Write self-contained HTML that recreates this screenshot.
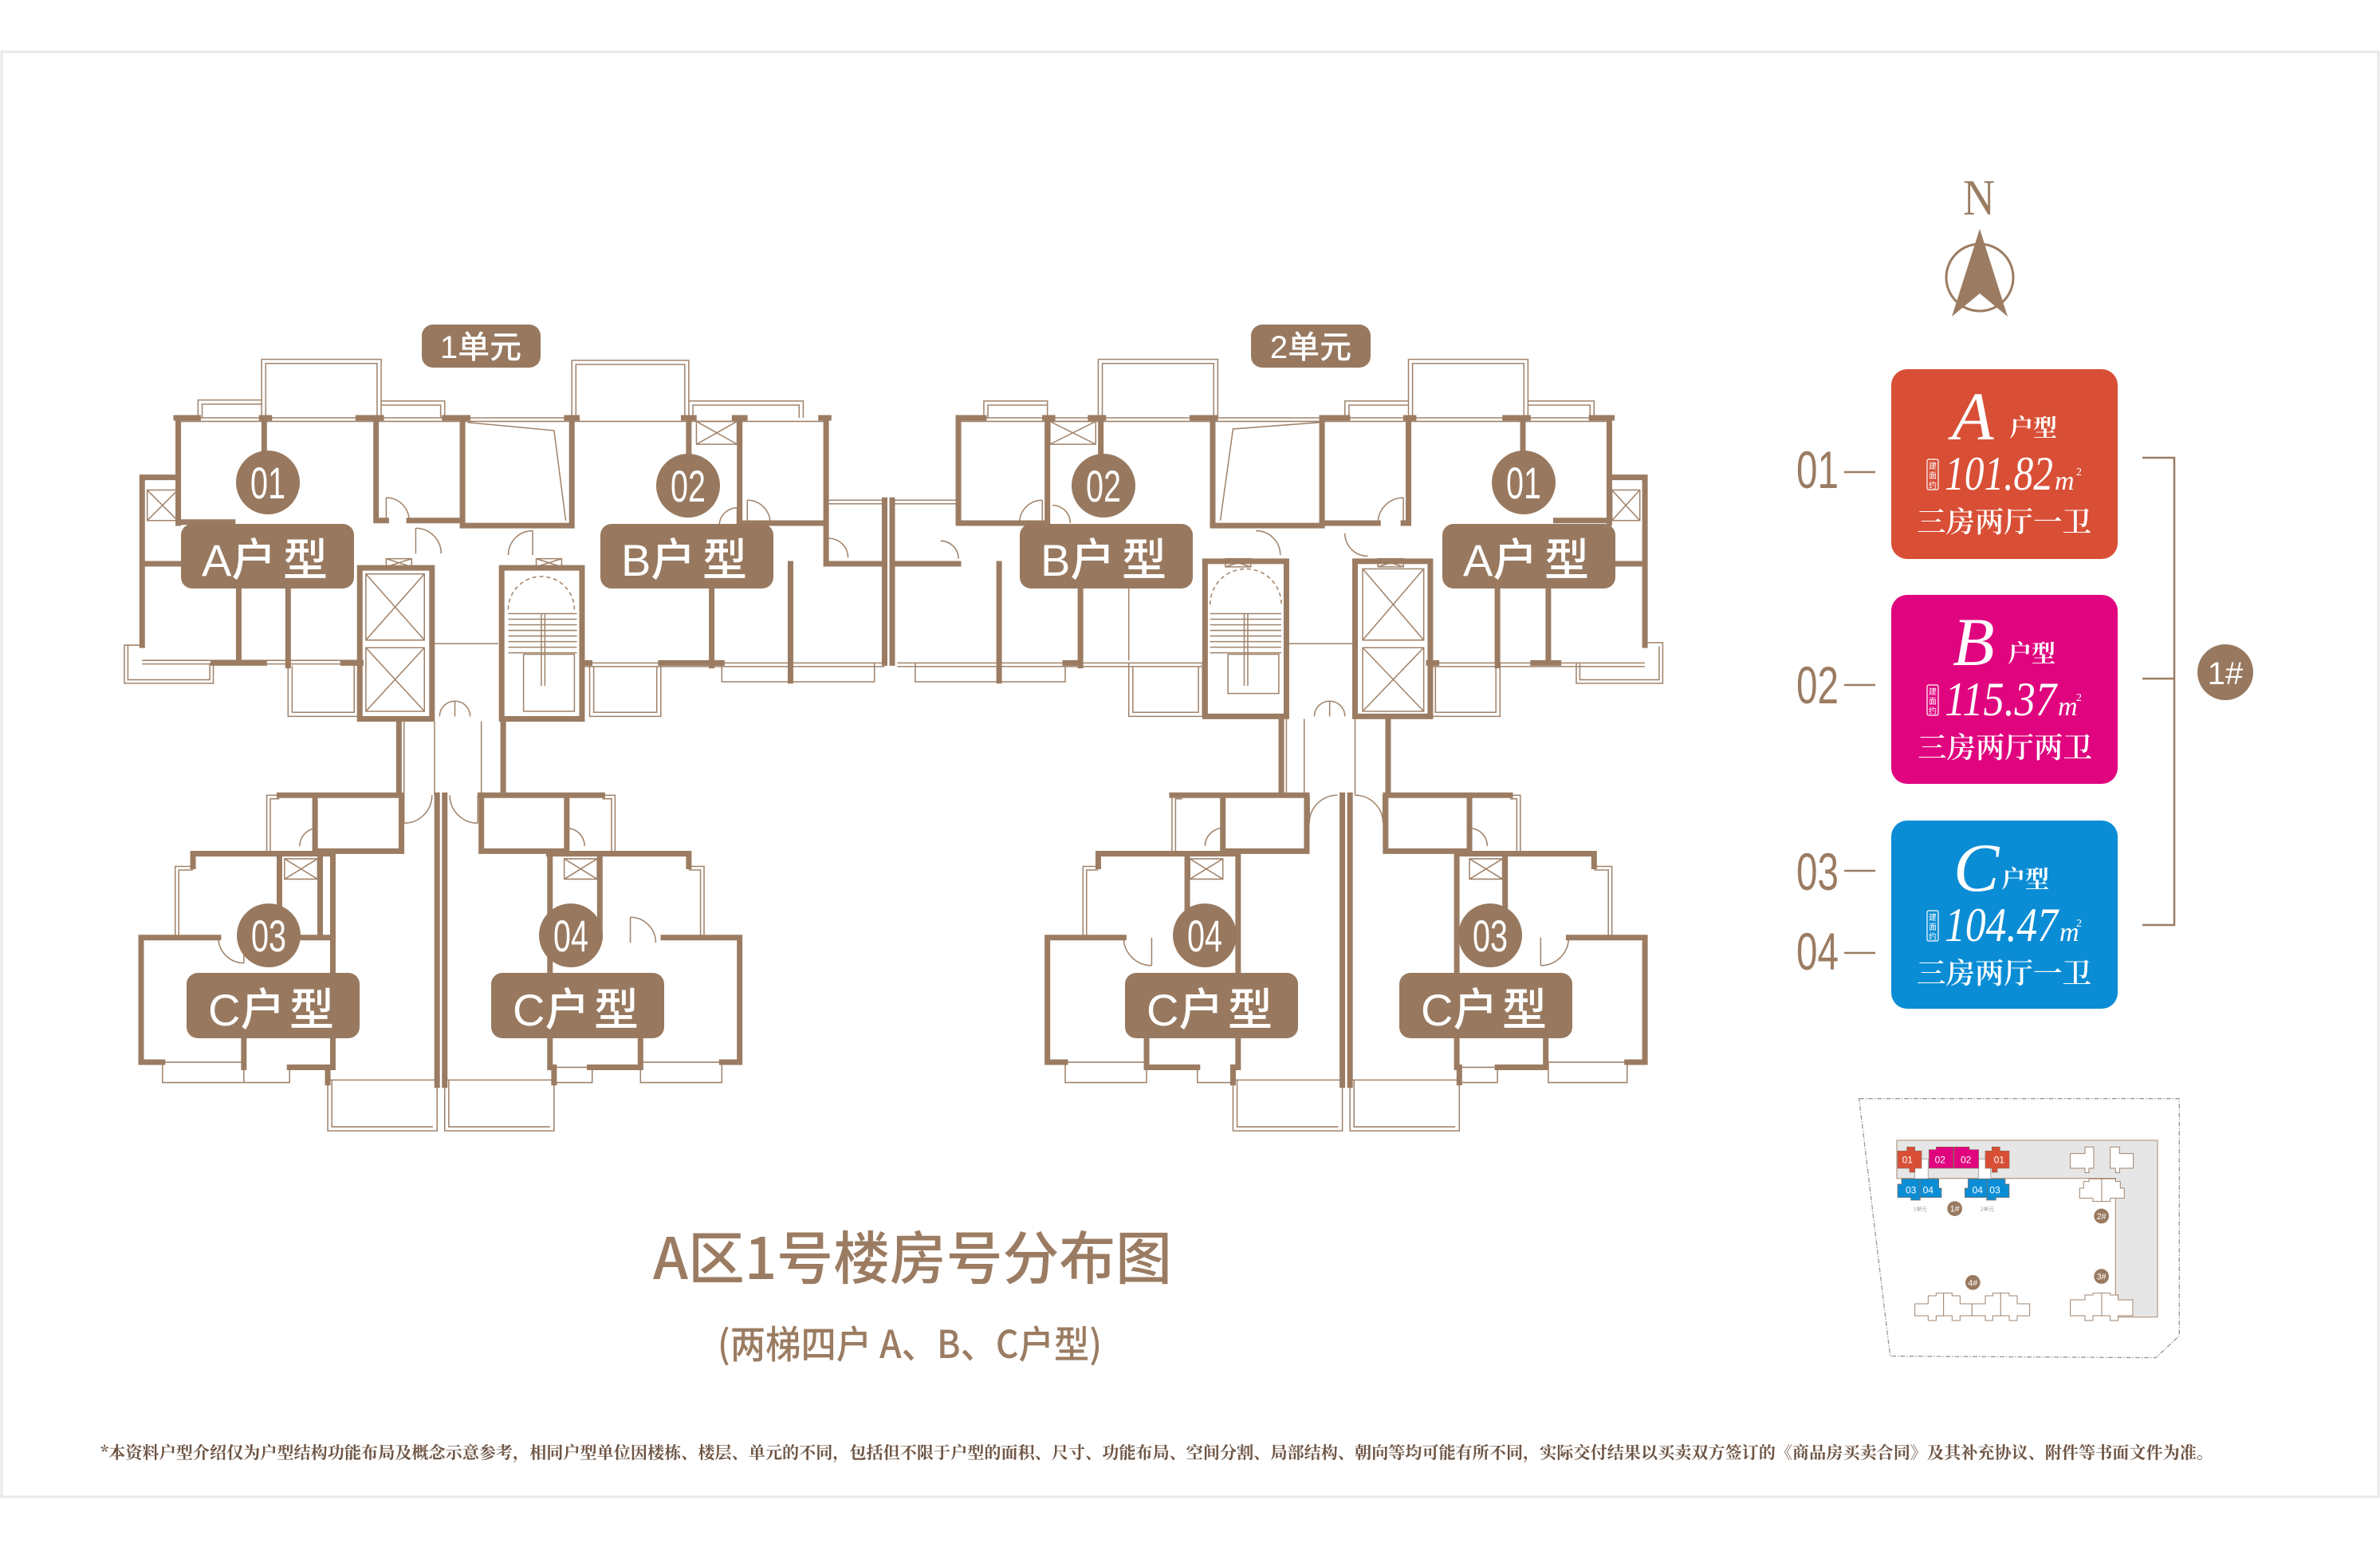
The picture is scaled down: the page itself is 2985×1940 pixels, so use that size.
<!DOCTYPE html>
<html><head><meta charset="utf-8"><style>
html,body{margin:0;padding:0;background:#fff}
svg{display:block}
.w{stroke:#9b7c62;stroke-width:11;fill:none;stroke-linecap:square}
.t{stroke:#a0836b;stroke-width:2.4;fill:none}
.d{stroke:#a0836b;stroke-width:2.4;fill:none;stroke-dasharray:8 6}
.pt{font-family:"Liberation Sans","Noto Sans CJK SC",sans-serif;font-weight:500;fill:#fff}
.cj{font-family:"Noto Sans CJK SC","WenQuanYi Zen Hei",sans-serif;font-weight:500}
.sf{font-family:"Liberation Serif","Noto Serif CJK SC",serif}
</style></head><body>
<svg width="2985" height="1940" viewBox="0 0 2985 1940" xmlns="http://www.w3.org/2000/svg">
<rect x="0" y="0" width="2985" height="1940" fill="#fff"/>
<rect x="2" y="65" width="2981" height="1812" fill="none" stroke="#e8e8e8" stroke-width="3"/>

<!-- UNIT 1 -->
<g transform="translate(140,420) scale(0.6378)">
<path class="t" d="M295,163V48H530V163M303,163V56H522V163M170,163V128H295M178,163V136H295M530,130H655V163M530,138H647V163M127,163H905M127,170H905M700,172L870,188L893,365M905,163V50H1135V163M913,163V58H1127V163M1135,163V130H1360V163M1143,163V138H1352V163M905,170H1410M60,610H25V685H200V645M32,610V678H193V645M347,650V750H485V650M355,650V742H477V650M60,640H490M60,647H490M930,645H1520M930,652H1520M940,645V750H1080V645M948,652V742H1072V652M1200,645V682H1335V645M1335,645V682H1500V645M1410,325H1520M1410,332H1520M575,760V905M635,760V905M727,760V905M305,1020V905H330M312,1020V912H330M125,1185V1045H160M132,1185V1052H160M100,1430H260M100,1430V1470H260V1435M260,1440V1470H350V1440M425,1465V1565H640V1465M433,1465V1557H632M425,1465H640M965,905H990V1020M965,912H983V1020M1135,1045H1165V1185M1135,1052H1158V1185M1040,1430H1200M1040,1430V1470H1200V1430M870,1440H945M870,1470H945V1440M655,1465V1565H870V1465M663,1465V1557H862M655,1465H870"/>
<path class="t" d="M70,305h60v60h-60zM70,305l60,60M130,305l-60,60M1150,170h80v45h-80zM1150,170l80,45M1230,170l-80,45M500,470h115v130h-115zM500,470l115,130M615,470l-115,130M500,615h115v125h-115zM500,615l115,125M615,615l-115,125M540,440h50v16h-50zM540,440l50,16M590,440l-50,16M835,440h50v16h-50zM835,440l50,16M885,440l-50,16M340,1030h65v40h-65zM340,1030l65,40M405,1030l-65,40M890,1030h65v40h-65zM890,1030l65,40M955,1030l-65,40"/>
<path class="t" d="M780,548H915M780,559H915M780,570H915M780,581H915M780,592H915M780,603H915M780,614H915M780,625H915M810,628H910V740H810ZM845,548V690M852,548V690M630,607H760"/>
<path class="d" d="M780,540A65,65 0 0 1 910,540"/>
<path class="t" d="M540,320V365M540,320A45,45 0 0 1 585,365M598,380V430M598,380A50,50 0 0 1 648,430M828,385V433M828,385A48,48 0 0 0 780,433M1230,340V375M1230,340A35,35 0 0 0 1195,375M1250,325V370M1250,325A45,45 0 0 1 1295,370M1410,400A38,38 0 0 1 1448,438M645,750A30,30 0 0 1 675,720V750M705,750A30,30 0 0 0 675,720M575,905V960M575,960A55,55 0 0 0 630,905M720,905V960M720,960A55,55 0 0 1 665,905M370,1005A35,35 0 0 1 405,970M895,970A35,35 0 0 1 930,1005M260,1185V1235M210,1185A50,50 0 0 0 260,1235M1020,1145V1195M1020,1145A50,50 0 0 1 1070,1195"/>
<path class="w" d="M127,163H170M295,163H310M485,163H530M655,163H700M131,163V370M131,280H60V610M60,450H137M137,368H238M300,163V232M520,163V365M520,365H540M585,365H690M690,163V375H905M905,163V375M250,498V645M347,498V650M200,645H300M455,645H490M488,458H630V755H488ZM767,458H925V755H767ZM565,755V905M770,755V905M1135,163V238M1235,163V370H1405M1405,163V450H1520M1520,325V645M1535,325V645M1180,498V650M1335,450V680M1080,645H1200M925,645H940M895,163H915M1125,163H1145M1225,163H1245M1395,163H1410M330,905H570M400,905V1015H570V905M160,1020H435M160,1020V1045M330,1020V1185M410,1020V1185M375,1185H435M435,1020V1440M58,1185H210M58,1185V1430M58,1430H100M260,1385V1440M350,1440H425V1470M640,905V1475M655,905V1475M725,905H965M727,905V1015H895V905M860,1020H1135V1045M862,1020V1440M960,1020V1185M1085,1185H1235V1430M1200,1430H1235M1040,1385V1440M940,1440H1040M870,1440V1470"/>
</g>

<!-- UNIT 2 -->
<g transform="translate(1100,420) scale(0.6378)">
<path class="t" d="M35,325H160M35,332H160M160,163H1445M160,170H1445M210,163V130H335V163M218,163V138H335M435,163V48H670V163M443,163V56H662V163M675,365L700,185L870,172M920,163V130H1045V163M928,163V138H1045M1045,163V48H1280V163M1053,163V56H1272V163M1280,163V130H1410V163M1280,138H1402V163M1510,605H1545V685H1375V645M1538,612V678H1382V645M495,498V640M40,645H645M40,652H645M75,645V682H240V645M240,645V682H370V645M495,645V750H640V645M503,652V742H632V652M1090,645H1510M1090,652H1510M1090,645V750H1225V645M1098,652V742H1217V652M805,755V905M840,755V905M940,755V905M580,1020V905M587,1020V912H600M405,1185V1045H435M412,1185V1052H435M370,1430H530M370,1430V1470H530V1430M630,1440V1470H700V1440M700,1465V1565H915V1465M708,1465V1557H907M700,1465H915M1245,905H1265V1020M1245,912H1258V1020M1410,1045H1445V1185M1410,1052H1438V1185M1320,1430H1475M1320,1430V1470H1475V1430M1145,1440H1220M1145,1470H1220V1440M930,1465V1565H1145V1465M938,1465V1557H1137M930,1465H1145"/>
<path class="t" d="M340,170h90v45h-90zM340,170l90,45M430,170l-90,45M1445,305h55v60h-55zM1445,305l55,60M1500,305l-55,60M955,460h120v140h-120zM955,460l120,140M1075,460l-120,140M955,615h120v125h-120zM955,615l120,125M1075,615l-120,125M685,440h50v16h-50zM685,440l50,16M735,440l-50,16M985,440h50v16h-50zM985,440l50,16M1035,440l-50,16M615,1030h65v40h-65zM615,1030l65,40M680,1030l-65,40M1165,1030h65v40h-65zM1165,1030l65,40M1230,1030l-65,40"/>
<path class="t" d="M655,548H795M655,559H795M655,570H795M655,581H795M655,592H795M655,603H795M655,614H795M655,625H795M690,628H790V705H690ZM722,548V690M729,548V690M805,607H935"/>
<path class="d" d="M655,530A70,70 0 0 1 795,530"/>
<path class="t" d="M1035,320V370M1035,320A50,50 0 0 0 985,370M325,325V370M325,325A45,45 0 0 0 280,370M345,335A35,35 0 0 1 380,370M125,405A35,35 0 0 1 160,440M860,750A30,30 0 0 1 890,720V750M920,750A30,30 0 0 0 890,720M850,905V960M850,960A55,55 0 0 1 905,905M995,905V960M995,960A55,55 0 0 0 940,905M645,1005A35,35 0 0 1 680,970M1165,970A35,35 0 0 1 1200,1005M540,1185V1240M485,1185A55,55 0 0 0 540,1240M1305,1185V1240M1360,1185A55,55 0 0 1 1305,1240M920,390A45,45 0 0 0 965,435M745,385A48,48 0 0 1 793,433"/>
<path class="w" d="M160,163V370M35,450H160M160,163H210M330,163H345M420,163H445M620,163H665M335,163V370M440,163V240M160,370H335M660,163V375H875M875,163V375M240,450V680M400,498V650M370,645H400M645,445H805V750H645ZM875,163H925M1040,163H1055M1235,163H1280M1405,163H1445M1045,163V370M880,370H985M1035,370H1045M1270,163V238M1440,163V370M1440,280H1510V610M1440,450H1510M1335,365H1440M1320,498V640M1220,498V650M1290,645H1340M1085,645H1100M940,445H1088V750H940ZM795,750V905M1005,750V905M580,905H845M680,905V1015H845V905M435,1020H710M435,1020V1045M610,1020V1185M710,1020V1440M335,1185H485M335,1185V1430H370M530,1385V1440H630M700,1440V1470M915,905V1475M930,905V1475M1000,905H1245M1000,905V1015H1165V905M1140,1020H1410V1045M1140,1020V1440M1235,1020V1185M1360,1185H1510V1430H1475M1315,1385V1440H1220M1145,1440V1470"/>
</g>

<!-- Unit labels -->
<g fill="#98795f">
<rect x="529" y="407" width="149" height="54" rx="14"/>
<rect x="1569" y="407" width="150" height="54" rx="14"/>
</g>
<text x="603" y="449" text-anchor="middle" font-size="40" class="pt">1单元</text>
<text x="1644" y="449" text-anchor="middle" font-size="40" class="pt">2单元</text>

<!-- Pills -->
<g fill="#98795f">
<rect x="227" y="657" width="217" height="81" rx="14"/>
<rect x="753" y="657" width="217" height="81" rx="14"/>
<rect x="1279" y="657" width="217" height="81" rx="14"/>
<rect x="1809" y="657" width="217" height="81" rx="14"/>
<rect x="234" y="1220" width="217" height="82" rx="14"/>
<rect x="616" y="1220" width="217" height="82" rx="14"/>
<rect x="1411" y="1220" width="217" height="82" rx="14"/>
<rect x="1755" y="1220" width="217" height="82" rx="14"/>
<circle cx="336" cy="605" r="40"/>
<circle cx="863" cy="609" r="40"/>
<circle cx="1384" cy="609" r="40"/>
<circle cx="1911" cy="605" r="40"/>
<circle cx="337" cy="1173" r="40"/>
<circle cx="716" cy="1173" r="40"/>
<circle cx="1511" cy="1173" r="40"/>
<circle cx="1869" cy="1173" r="40"/>
</g>
<g class="pt" font-size="56">
<text x="253" y="722">A户</text><text x="355" y="722">型</text>
<text x="779" y="722">B户</text><text x="881" y="722">型</text>
<text x="1305" y="722">B户</text><text x="1407" y="722">型</text>
<text x="1835" y="722">A户</text><text x="1937" y="722">型</text>
<text x="261" y="1286">C户</text><text x="363" y="1286">型</text>
<text x="643" y="1286">C户</text><text x="745" y="1286">型</text>
<text x="1438" y="1286">C户</text><text x="1540" y="1286">型</text>
<text x="1782" y="1286">C户</text><text x="1884" y="1286">型</text>
</g>
<g fill="#fff" font-family="Liberation Sans, sans-serif" font-size="56" text-anchor="middle">
<text x="336" y="625" textLength="44" lengthAdjust="spacingAndGlyphs">01</text>
<text x="863" y="629" textLength="44" lengthAdjust="spacingAndGlyphs">02</text>
<text x="1384" y="629" textLength="44" lengthAdjust="spacingAndGlyphs">02</text>
<text x="1911" y="625" textLength="44" lengthAdjust="spacingAndGlyphs">01</text>
<text x="337" y="1193" textLength="44" lengthAdjust="spacingAndGlyphs">03</text>
<text x="716" y="1193" textLength="44" lengthAdjust="spacingAndGlyphs">04</text>
<text x="1511" y="1193" textLength="44" lengthAdjust="spacingAndGlyphs">04</text>
<text x="1869" y="1193" textLength="44" lengthAdjust="spacingAndGlyphs">03</text>
</g>

<!-- Title -->
<text x="819" y="1604" font-size="72" fill="#9b7c62" class="cj" textLength="651" lengthAdjust="spacingAndGlyphs">A区1号楼房号分布图</text>
<text x="900" y="1703" font-size="48" fill="#9b7c62" class="cj" textLength="482" lengthAdjust="spacingAndGlyphs">(两梯四户 A、B、C户型)</text>

<!-- Footnote -->
<text x="126" y="1829" font-size="21" fill="#6e5544" font-family="Noto Serif CJK SC, serif" font-weight="700" textLength="2650" lengthAdjust="spacingAndGlyphs">*本资料户型介绍仅为户型结构功能布局及概念示意参考，相同户型单位因楼栋、楼层、单元的不同，包括但不限于户型的面积、尺寸、功能布局、空间分割、局部结构、朝向等均可能有所不同，实际交付结果以买卖双方签订的《商品房买卖合同》及其补充协议、附件等书面文件为准。</text>

<!-- Compass -->
<text x="2482" y="269" text-anchor="middle" font-size="64" fill="#9b7c62" class="sf" textLength="40" lengthAdjust="spacingAndGlyphs">N</text>
<circle cx="2483" cy="348" r="42" fill="none" stroke="#9b7c62" stroke-width="3"/>
<polygon points="2483,287 2448,397 2483,368 2518,397" fill="#9b7c62"/>

<!-- Right legend labels -->
<g fill="#9b7c62" font-family="Liberation Sans, sans-serif" font-size="66">
<text x="2253" y="612" textLength="53" lengthAdjust="spacingAndGlyphs">01</text>
<text x="2253" y="882" textLength="53" lengthAdjust="spacingAndGlyphs">02</text>
<text x="2253" y="1116" textLength="53" lengthAdjust="spacingAndGlyphs">03</text>
<text x="2253" y="1216" textLength="53" lengthAdjust="spacingAndGlyphs">04</text>
</g>
<path d="M2313,592H2352M2313,859H2352M2313,1092H2352M2313,1195H2352" stroke="#9b7c62" stroke-width="2.5" fill="none"/>
<path d="M2687,574H2727V1160H2687M2687,851H2727" stroke="#9b7c62" stroke-width="2.5" fill="none"/>
<circle cx="2791" cy="843" r="35" fill="#98795f"/>
<text x="2791" y="858" text-anchor="middle" font-size="40" fill="#fff" font-family="Liberation Sans, sans-serif">1#</text>

<!-- Boxes -->
<rect x="2372" y="463" width="284" height="238" rx="20" fill="#d84f36"/>
<rect x="2372" y="746" width="284" height="237" rx="20" fill="#e0057f"/>
<rect x="2372" y="1029" width="284" height="236" rx="20" fill="#0b8dd5"/>
<g fill="#fff">
<text x="2448" y="551" font-size="86" font-style="italic" class="sf">A</text>
<text x="2520" y="547" font-size="30" font-weight="700" font-family="Noto Serif CJK SC, serif">户型</text>
<text x="2439" y="614" font-size="60" font-style="italic" class="sf" textLength="136" lengthAdjust="spacingAndGlyphs">101.82</text>
<text x="2577" y="614" font-size="34" font-style="italic" class="sf">m</text><text x="2604" y="596" font-size="14" class="sf">2</text>
<text x="2404" y="667" font-size="36" font-family="Noto Serif CJK SC, serif" font-weight="600" textLength="219" lengthAdjust="spacingAndGlyphs">三房两厅一卫</text>

<text x="2449" y="834" font-size="86" font-style="italic" class="sf">B</text>
<text x="2518" y="830" font-size="30" font-weight="700" font-family="Noto Serif CJK SC, serif">户型</text>
<text x="2439" y="897" font-size="60" font-style="italic" class="sf" textLength="140" lengthAdjust="spacingAndGlyphs">115.37</text>
<text x="2581" y="897" font-size="34" font-style="italic" class="sf">m</text><text x="2604" y="879" font-size="14" class="sf">2</text>
<text x="2405" y="950" font-size="36" font-family="Noto Serif CJK SC, serif" font-weight="600" textLength="219" lengthAdjust="spacingAndGlyphs">三房两厅两卫</text>

<text x="2450" y="1117" font-size="86" font-style="italic" class="sf">C</text>
<text x="2510" y="1113" font-size="30" font-weight="700" font-family="Noto Serif CJK SC, serif">户型</text>
<text x="2439" y="1180" font-size="60" font-style="italic" class="sf" textLength="142" lengthAdjust="spacingAndGlyphs">104.47</text>
<text x="2583" y="1180" font-size="34" font-style="italic" class="sf">m</text><text x="2604" y="1162" font-size="14" class="sf">2</text>
<text x="2404" y="1233" font-size="36" font-family="Noto Serif CJK SC, serif" font-weight="600" textLength="219" lengthAdjust="spacingAndGlyphs">三房两厅一卫</text>
</g>
<g fill="none" stroke="#fff" stroke-width="1.2">
<rect x="2417" y="576" width="14" height="38" rx="2"/>
<rect x="2417" y="859" width="14" height="38" rx="2"/>
<rect x="2417" y="1142" width="14" height="38" rx="2"/>
</g>
<g fill="#fff" font-size="10" text-anchor="middle" font-family="Noto Sans CJK SC, sans-serif">
<text x="2424" y="588">建</text><text x="2424" y="600">面</text><text x="2424" y="612">约</text>
<text x="2424" y="871">建</text><text x="2424" y="883">面</text><text x="2424" y="895">约</text>
<text x="2424" y="1154">建</text><text x="2424" y="1166">面</text><text x="2424" y="1178">约</text>
</g>

<!-- Site plan -->
<g transform="translate(2300,1350) scale(0.3333)">
<polygon points="95,83 1300,83 1300,975 1212,1058 212,1052" fill="none" stroke="#9a9a9a" stroke-width="4" stroke-dasharray="18 6 4 6"/>
<path d="M237,240H1218V905H1060V383H237Z" fill="#e6e6e6" stroke="#b9a08c" stroke-width="4"/>
<path d="M305,310H355V385H305Z M545,310H590V385H545Z" fill="#fff" stroke="#a9a9a9" stroke-width="3"/>
<polygon points="240,280 275,280 275,265 305,265 305,280 330,280 330,345 305,345 305,360 285,360 285,345 240,345" fill="#d84f36" stroke="#8a6a55" stroke-width="2"/>
<polygon points="660,280 625,280 625,265 595,265 595,280 570,280 570,345 595,345 595,360 615,360 615,345 660,345" fill="#d84f36" stroke="#8a6a55" stroke-width="2"/>
<polygon points="358,275 385,275 385,265 450,265 450,345 358,345" fill="#e0057f" stroke="#8a6a55" stroke-width="2"/>
<polygon points="452,265 510,265 510,275 545,275 545,345 452,345" fill="#e0057f" stroke="#8a6a55" stroke-width="2"/>
<polygon points="240,405 255,405 255,385 395,385 395,420 405,420 405,455 325,455 325,465 290,465 290,455 240,455" fill="#0b8dd5" stroke="#8a6a55" stroke-width="2"/>
<polygon points="660,405 645,405 645,385 505,385 505,420 493,420 493,455 575,455 575,465 610,465 610,455 660,455" fill="#0b8dd5" stroke="#8a6a55" stroke-width="2"/>
<path d="M324,385V460M576,385V460M451,265V345" stroke="#8a6a55" stroke-width="2"/>
<g fill="#fff" font-family="Liberation Sans, sans-serif" font-size="36" text-anchor="middle">
<text x="277" y="326">01</text><text x="400" y="326">02</text><text x="497" y="326">02</text><text x="622" y="326">01</text>
<text x="290" y="440">03</text><text x="355" y="440">04</text><text x="541" y="440">04</text><text x="606" y="440">03</text>
</g>
<g fill="#9a9a9a" font-size="20" text-anchor="middle" font-family="Noto Sans CJK SC, sans-serif">
<text x="325" y="505">1单元</text><text x="577" y="505">2单元</text>
</g>
<g fill="#98795f">
<circle cx="455" cy="497" r="28"/><circle cx="1007" cy="525" r="28"/><circle cx="1007" cy="752" r="28"/><circle cx="523" cy="775" r="28"/>
</g>
<g fill="#fff" font-size="32" text-anchor="middle" font-family="Liberation Sans, sans-serif">
<text x="455" y="509">1#</text><text x="1007" y="537">2#</text><text x="1007" y="764">3#</text><text x="523" y="787">4#</text>
</g>
<g fill="#fff" stroke="#a08570" stroke-width="3">
<polygon points="890,290 945,290 945,265 978,265 978,345 960,345 960,362 945,362 945,345 890,345"/>
<polygon points="1127,290 1075,290 1075,265 1040,265 1040,345 1060,345 1060,362 1075,362 1075,345 1127,345"/>
<polygon points="925,420 940,420 940,395 960,395 960,385 1008,385 1008,470 975,470 975,458 925,458"/>
<polygon points="1093,420 1078,420 1078,395 1060,395 1060,385 1008,385 1008,470 1040,470 1040,458 1093,458"/>
<polygon points="890,840 945,840 945,822 975,822 975,815 1008,815 1008,900 975,900 975,918 945,918 945,900 890,900"/>
<polygon points="1125,840 1070,840 1070,822 1040,822 1040,815 1008,815 1008,900 1040,900 1040,918 1070,918 1070,900 1125,900"/>
<polygon points="305,855 355,855 355,825 385,825 385,815 413,815 413,900 385,900 385,918 355,918 355,900 305,900"/>
<polygon points="520,855 475,855 475,825 445,825 445,815 413,815 413,900 445,900 445,918 475,918 475,900 520,900"/>
<polygon points="520,855 570,855 570,825 598,825 598,815 628,815 628,900 598,900 598,918 570,918 570,900 520,900"/>
<polygon points="737,855 690,855 690,825 660,825 660,815 628,815 628,900 660,900 660,918 690,918 690,900 737,900"/>
</g>
</g>
</svg>
</body></html>
